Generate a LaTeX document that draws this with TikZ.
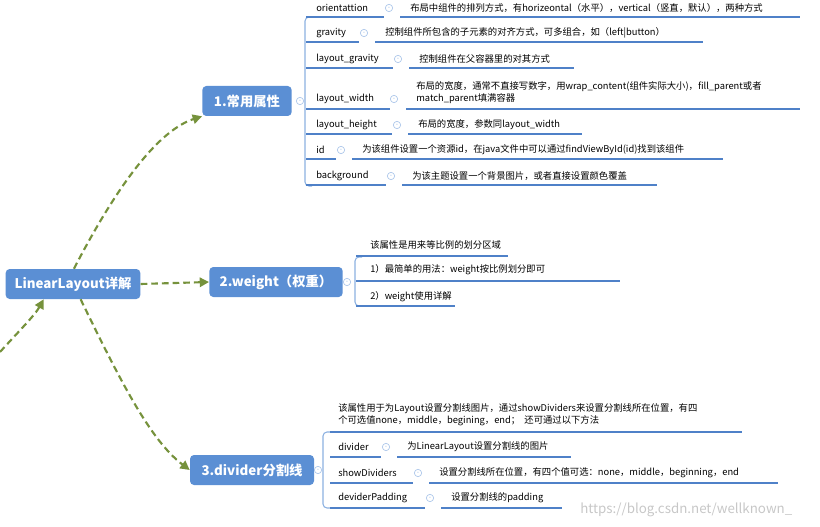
\documentclass[tikz,border=0pt]{standalone}
\usepackage{fontspec}
\setmainfont{Noto Sans CJK SC}
\usetikzlibrary{arrows.meta}
\definecolor{mblue}{HTML}{5B8FD4}
\definecolor{lblue}{HTML}{4F81C8}
\definecolor{mgreen}{HTML}{76923C}
\tikzset{
 topic/.style={fill=mblue,rounded corners=3pt,text=white,font=\bfseries\fontsize{10}{12}\selectfont,inner sep=0pt,minimum height=22.5pt},
 conn/.style={draw=mgreen,line width=1.6pt,dash pattern=on 5pt off 3pt,-{Triangle[length=7pt,width=7pt]}},
 item/.style={anchor=west,inner sep=0pt,font=\fontsize{7}{9}\selectfont},
 uline/.style={draw=lblue,line width=1.3pt},
 brk/.style={draw=mblue!70,line width=0.8pt,rounded corners=3pt},
 tog/.style={circle,draw=mblue!50,fill=white,inner sep=0pt,minimum size=5.5pt,line width=0.5pt,
   label={[inner sep=0pt,font=\tiny,text=mblue!60]center:-}}
}
\begin{document}
\begin{tikzpicture}[x=0.75pt,y=-0.75pt]
\useasboundingbox (0,0) rectangle (820,527);
% main topics
\node[topic,minimum width=101pt] (root) at (73,284) {LinearLayout详解};
\node[topic,minimum width=67pt] (n1) at (247,101) {1.常用属性};
\node[topic,minimum width=100pt] (n2) at (276,282) {2.weight（权重）};
\node[topic,minimum width=93pt] (n3) at (252,470) {3.divider分割线};
\coordinate (off) at (0,352);
\draw[conn] (root.north east) ++(-50pt,0) coordinate (r1) .. controls (120,180) and (160,130) .. (n1.south west);
\draw[conn] (root.east) -- (n2.west);
\draw[conn] (root.south east) ++(-45pt,0) .. controls (120,380) and (150,440) .. (n3.west);
\draw[conn] (off) .. controls (20,330) and (35,315) .. ([xshift=-22pt]root.south);

% branch 1
\node[tog] (t1) at (300,101) {};
\draw[brk] (312,17) -- (305,17) -- (305,186) -- (312,186);
\foreach \lab/\ty/\cx/\endx/\desc in {
  orientattion/8/389/800/{布局中组件的排列方式，有horizeontal（水平），vertical（竖直，默认），两种方式},
  gravity/33/364/703/{控制组件所包含的子元素的对齐方式，可多组合，如（left|button）},
  layout\_gravity/59/398/574/{控制组件在父容器里的对其方式},
  layout\_height/125/397/582/{布局的宽度，参数同layout\_width},
  id/150/341/723/{为该组件设置一个资源id，在java文件中可以通过findViewById(id)找到该组件},
  background/176/391/657/{为该主题设置一个背景图片，或者直接设置颜色覆盖}}{
  \node[item] at (316,\ty) {\lab};
  \node[tog] at (\cx,\ty) {};
  \node[item] at (\cx+21,\ty) {\desc};
  \draw[uline] (306,\ty+9) -- (\cx-5,\ty+9) (\cx+11,\ty+9) -- (\endx,\ty+9);
}
\node[item] at (316,99) {layout\_width};
\node[tog] at (394,99) {};
\node[item,align=left] at (416,93) {布局的宽度，通常不直接写数字，用wrap\_content(组件实际大小)，fill\_parent或者\\match\_parent填满容器};
\draw[uline] (306,109) -- (390,109) (406,109) -- (800,109);

% branch 2
\node[tog] (t2) at (347,282) {};
\draw[brk] (362,257) -- (355,257) -- (355,306) -- (362,306);
\node[item] at (370,245) {该属性是用来等比例的划分区域};
\draw[uline] (356,256) -- (508,256);
\node[item] at (370,270) {1）最简单的用法：weight按比例划分即可};
\draw[uline] (356,281) -- (620,281);
\node[item] at (370,297) {2）weight使用详解};
\draw[uline] (356,306) -- (455,306);

% branch 3
\node[tog] (t3) at (318,470) {};
\draw[brk] (330,432) -- (323,432) -- (323,508) -- (330,508);
\node[item,align=left] at (338,415) {该属性用于为Layout设置分割线图片，通过showDividers来设置分割线所在位置，有四\\个可选值none，middle，begining，end；\ \ 还可通过以下方法};
\draw[uline] (330,432) -- (742,432);
\foreach \lab/\ty/\cx/\endx/\desc in {
  divider/447/386/571/{为LinearLayout设置分割线的图片},
  showDividers/473/418/778/{设置分割线所在位置，有四个值可选：none，middle，beginning，end},
  deviderPadding/498/430/562/{设置分割线的padding}}{
  \node[item] at (338,\ty) {\lab};
  \node[tog] at (\cx,\ty) {};
  \node[item] at (\cx+21,\ty) {\desc};
  \draw[uline] (330,\ty+10) -- (\cx-5,\ty+10) (\cx+11,\ty+10) -- (\endx,\ty+10);
}
\node[anchor=west,inner sep=0pt,text=black!22,font={\fontsize{10}{12}\selectfont}] (wm) at (580,510) {https://blog.csdn.net/wellknown\_};
\end{tikzpicture}
\end{document}
